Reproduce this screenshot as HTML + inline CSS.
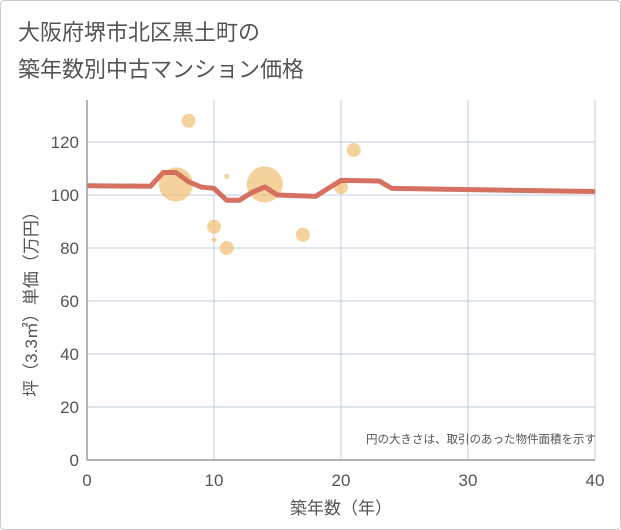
<!DOCTYPE html>
<html><head><meta charset="utf-8"><style>
body{margin:0;background:#fff;font-family:"Liberation Sans","Noto Sans CJK JP",sans-serif}
#wrap{position:relative;width:619px;height:528px;border:1px solid #ccc;border-radius:4px}
</style></head><body>
<div id="wrap">
<svg id="svg" width="621" height="530" style="position:absolute;left:-1px;top:-1px">
<text x="18" y="40" font-size="22" fill="#555">大阪府堺市北区黒土町の</text>
<text x="18" y="77" font-size="22" fill="#555">築年数別中古マンション価格</text>
<g id="grid"></g><g id="bubbles"></g><g id="line"></g><g id="axes"></g>
<text x="596" y="443" font-size="11.5" fill="#555" text-anchor="end">円の大きさは、取引のあった物件面積を示す</text>
<text x="341" y="514" font-size="17" fill="#555" text-anchor="middle">築年数（年）</text>
<text transform="translate(37,300) rotate(-90)" font-size="17" fill="#555" text-anchor="middle">坪（3.3㎡）単価（万円）</text>
</svg></div>
<script>
const xTicks=[0,10,20,30,40];
const yTicks=[0,20,40,60,80,100,120];
const bubbleX=[7,8,10,10,11,11,14,17,20,21];
const bubbleY=[104,128,88,83,80,107,104,85,103,117];
const bubbleR=[17,7,7,2.5,7,2.5,18,7,7,7];
const lineX=[0,5,6,7,8,9,10,11,12,13,14,15,18,20,23,24,40];
const lineY=[103.5,103.3,108.5,108.5,105,103,102.5,98,98,101,103,100,99.5,105.5,105.3,102.5,101.3];
const X0=87,X1=595,Y0=460,PY=2.65;
const sx=v=>X0+(X1-X0)*v/40, sy=v=>Y0-v*PY;
const NS="http://www.w3.org/2000/svg";
function mk(t,a,p){const e=document.createElementNS(NS,t);for(const k in a)e.setAttribute(k,a[k]);p.appendChild(e);return e;}
const g=document.getElementById('grid'),ax=document.getElementById('axes');
yTicks.forEach(v=>{if(v>0){const l=mk('line',{x1:X0,x2:X1,y1:sy(v),y2:sy(v),stroke:'#d5dde8','stroke-width':1.5},g);

}
const t=mk('text',{x:X0-8,y:sy(v)+6,'font-size':17,fill:'#555','text-anchor':'end'},ax);t.textContent=v;

});
xTicks.forEach(v=>{if(v>0){const l=mk('line',{x1:sx(v),x2:sx(v),y1:100,y2:Y0,stroke:'#c0ccda','stroke-width':1},g);

}
const t=mk('text',{x:sx(v),y:Y0+26,'font-size':17,fill:'#555','text-anchor':'middle'},ax);t.textContent=v;

});
const a1=mk('line',{x1:X0,x2:X0,y1:100,y2:Y0,stroke:'#999','stroke-width':1.5},ax);


const a2=mk('line',{x1:X0,x2:X1,y1:Y0,y2:Y0,stroke:'#999','stroke-width':1.5},ax);


const b=document.getElementById('bubbles');
bubbleX.forEach((x,i)=>{const c=mk('circle',{cx:sx(x),cy:sy(bubbleY[i]),r:bubbleR[i],fill:'#f2c27a','fill-opacity':0.75},b);

});
const p=mk('polyline',{points:lineX.map((x,i)=>sx(x)+','+sy(lineY[i])).join(' '),fill:'none',stroke:'#d4695a','stroke-width':5,'stroke-linejoin':'round','stroke-opacity':0.95},document.getElementById('line'));


</script>
</body></html>
